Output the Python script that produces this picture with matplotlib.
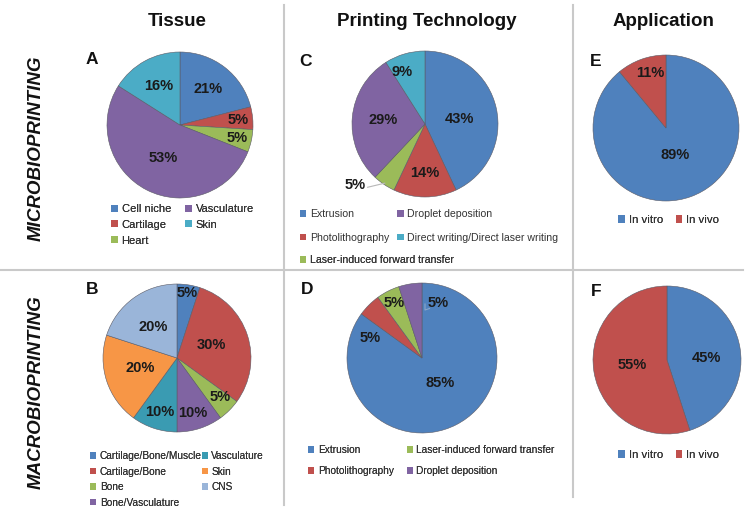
import numpy as np
import matplotlib
matplotlib.use('Agg')
import matplotlib.pyplot as plt

plt.rcParams['font.family'] = ['Liberation Sans', 'DejaVu Sans']

# data (percent)
tissue_micro_labels = ['Cell niche', 'Cartilage', 'Heart', 'Vasculature', 'Skin']
tissue_micro_values = [21, 5, 5, 53, 16]

tech_micro_labels = ['Extrusion', 'Photolithography', 'Laser-induced forward transfer',
                     'Droplet deposition', 'Direct writing/Direct laser writing']
tech_micro_values = [43, 14, 5, 29, 9]

app_labels = ['In vitro', 'In vivo']
app_micro_values = [89, 11]

tissue_macro_labels = ['Cartilage/Bone/Muscle', 'Cartilage/Bone', 'Bone', 'Bone/Vasculature',
                       'Vasculature', 'Skin', 'CNS']
tissue_macro_values = [5, 30, 5, 10, 10, 20, 20]

tech_macro_labels = ['Extrusion', 'Photolithography', 'Laser-induced forward transfer',
                     'Droplet deposition']
tech_macro_values = [85, 5, 5, 5]

app_macro_values = [45, 55]

BLUE, RED, GREEN, PURPLE, CYAN, ORANGE = '#4F81BD', '#C0504D', '#9BBB59', '#8064A2', '#4BACC6', '#F79646'
TEAL, LIGHTBLUE = '#3A9BB2', '#9AB5D9'

W, H = 749, 514
fig = plt.figure(figsize=(W / 100, H / 100), dpi=100)

# background axes in pixel coordinates for titles and separator lines
bg = fig.add_axes([0, 0, 1, 1])
bg.set_xlim(0, W)
bg.set_ylim(H, 0)
bg.axis('off')

line_kw = dict(color='#c9c9c9', lw=1.5)
bg.plot([284, 284], [5, 505], **line_kw)
bg.plot([573, 573], [5, 497], **line_kw)
bg.plot([0, 743], [270, 270], **line_kw)

for x, t in [(177, 'Tissue'), (427, 'Printing Technology'), (663, 'Application')]:
    bg.text(x, 22, t, ha='center', va='center', fontsize=13.5, fontweight='bold', color='#111111')

for y, t in [(148, 'MICROBIOPRINTING'), (392, 'MACROBIOPRINTING')]:
    bg.text(36, y, t, ha='center', va='center', rotation=90, fontsize=13.5,
            fontweight='bold', fontstyle='italic', color='#111111')

for x, y, t in [(92, 60, 'A'), (92, 290, 'B'), (306, 61, 'C'), (307, 289, 'D'),
                (596, 62, 'E'), (596, 292, 'F')]:
    bg.text(x, y, t, ha='center', va='center', fontsize=12.5, fontweight='bold', color='#111111')


def pie_panel(cx, cy, r, values, colors, label_r, label_off):
    """Draw one pie with centre (cx, cy) and radius r in pixels."""
    ax = fig.add_axes([(cx - r) / W, (H - cy - r) / H, 2 * r / W, 2 * r / H])
    wedges, _ = ax.pie(values, colors=colors, startangle=90, counterclock=False,
                       radius=1, wedgeprops=dict(edgecolor='#5b5b66', linewidth=0.4))
    ax.set_xlim(-1, 1)
    ax.set_ylim(-1, 1)
    ax.set_aspect('equal')
    ax.axis('off')
    for w, v, lr, lo in zip(wedges, values, label_r, label_off):
        ang = np.deg2rad((w.theta1 + w.theta2) / 2 + lo)
        ax.text(lr * np.cos(ang), lr * np.sin(ang), '%d%%' % v, ha='center', va='center',
                fontsize=10.5, fontweight='bold', color='#1a1a1a')
    return ax, wedges


def add_legend(ax, handles, labels, xy, fs, spacing, colspacing, ncol=2):
    leg = ax.legend(handles, labels, ncol=ncol, loc='upper left',
                    bbox_to_anchor=(xy[0] / W, 1 - xy[1] / H),
                    bbox_transform=fig.transFigure, frameon=False, fontsize=fs,
                    handlelength=0.6, handleheight=0.6, handletextpad=0.35,
                    labelspacing=spacing, columnspacing=colspacing, borderpad=0,
                    borderaxespad=0)
    for t in leg.get_texts():
        t.set_color('#333333')
    for h in leg.legend_handles:
        h.set_edgecolor('none')
    ax.add_artist(leg)
    return leg


# A - tissue, micro
axa, wa = pie_panel(180, 125, 73, tissue_micro_values, [BLUE, RED, GREEN, PURPLE, CYAN],
                    [0.63, 0.8, 0.8, 0.5, 0.61], [0, 0, 0, 0, 0])
add_legend(axa, wa, tissue_micro_labels, (111, 204), 8, 0.53, 1.3)

# C - technology, micro
axc, wc = pie_panel(425, 124, 73, tech_micro_values, [BLUE, RED, GREEN, PURPLE, CYAN],
                    [0.48, 0.67, 1.27, 0.58, 0.78], [-5, 0, -15, 0, 8])
order = [0, 1, 3, 4]
add_legend(axc, [wc[i] for i in order], [tech_micro_labels[i] for i in order],
           (300, 209), 7.6, 1.3, 0.75)
add_legend(axc, [wc[2]], [tech_micro_labels[2]], (300, 255), 7.6, 1.3, 0.75, ncol=1)
m = (wc[2].theta1 + wc[2].theta2) / 2
p0 = 0.98 * np.array([np.cos(np.deg2rad(m)), np.sin(np.deg2rad(m))])
p1 = 1.17 * np.array([np.cos(np.deg2rad(m - 8)), np.sin(np.deg2rad(m - 8))])
axc.plot([p0[0], p1[0]], [p0[1], p1[1]], color='#b8b8b8', lw=0.8, clip_on=False)

# E - application, micro
axe, we = pie_panel(666, 128, 73, app_micro_values, [BLUE, RED], [0.39, 0.78], [-1, -4])
add_legend(axe, we, app_labels, (618, 215), 8.2, 0.3, 1.1)

# B - tissue, macro
axb, wb = pie_panel(177, 358, 74, tissue_macro_values,
                    [BLUE, RED, GREEN, PURPLE, TEAL, ORANGE, LIGHTBLUE],
                    [0.89, 0.5, 0.78, 0.77, 0.77, 0.52, 0.53], [0, 2, 3, -2, 0, -3, 2])
add_legend(axb, wb, tissue_macro_labels, (90, 451), 7.3, 0.55, 0.0)

# D - technology, macro
axd, wd = pie_panel(422, 358, 75, tech_macro_values, [BLUE, RED, GREEN, PURPLE],
                    [0.41, 0.74, 0.82, 0.76], [9, 24, 0, -25])
add_legend(axd, wd, tech_macro_labels, (308, 445), 7.3, 1.1, 1.3)
axd.plot([0.1, 0.04, 0.04], [0.66, 0.64, 0.72], color='#8aa6c8', lw=0.8)

# F - application, macro
axf, wf = pie_panel(667, 360, 74, app_macro_values, [BLUE, RED], [0.54, 0.47], [-6, -1])
add_legend(axf, wf, app_labels, (618, 450), 8.2, 0.3, 1.1)

fig.savefig('out.png', dpi=100)
